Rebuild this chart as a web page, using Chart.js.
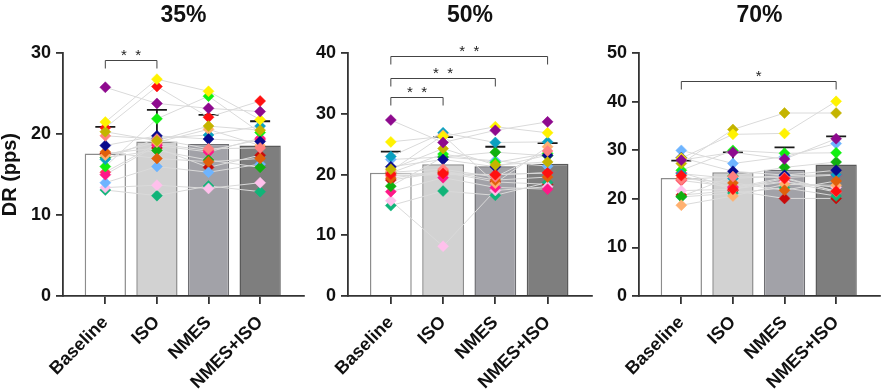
<!DOCTYPE html>
<html>
<head>
<meta charset="utf-8">
<script src="https://cdn.jsdelivr.net/npm/chart.js@4.4.1/dist/chart.umd.min.js"></script>
<style>
  body { margin: 0; background: #fff; }
  #wrap { position: relative; width: 886px; height: 391px; }
  canvas { position: absolute; top: 0; }
</style>
</head>
<body>
<div id="wrap">
  <canvas id="c35" width="310" height="391" style="left:0"></canvas>
  <canvas id="c50" width="288" height="391" style="left:310px"></canvas>
  <canvas id="c70" width="288" height="391" style="left:598px"></canvas>
</div>
<script>
const conditions = ['Baseline', 'ISO', 'NMES', 'NMES+ISO'];

// bar heights (mean) and top of the error bar (mean + SD)
const mean35 = [17.6, 19.1, 18.8, 18.6];
const sdTop35 = [20.9, 23.0, 22.4, 21.6];
const mean50 = [20.3, 21.7, 21.4, 21.8];
const sdTop50 = [23.8, 26.2, 24.6, 25.2];
const mean70 = [24.3, 25.5, 26.0, 27.1];
const sdTop70 = [27.9, 29.6, 30.6, 32.9];

// one row per participant: Baseline, ISO, NMES, NMES+ISO
const subjects35 = [
  [25.8, 23.8, 23.2, 22.8],
  [21.5, 26.8, 25.3, 21.8],
  [20.3, 19.2, 21.0, 20.5],
  [20.8, 25.9, 22.1, 24.1],
  [19.8, 19.4, 18.2, 18.3],
  [18.6, 19.8, 19.4, 19.1],
  [17.8, 17.0, 16.6, 17.0],
  [17.4, 19.0, 20.6, 18.6],
  [16.9, 19.5, 19.9, 21.0],
  [16.0, 21.9, 24.7, 20.2],
  [17.1, 18.0, 16.8, 15.9],
  [15.0, 18.6, 17.8, 19.5],
  [14.0, 16.0, 15.3, 16.3],
  [13.4, 13.7, 13.3, 14.0],
  [13.1, 12.4, 13.6, 12.9],
  [17.6, 18.3, 15.9, 17.4],
  [15.3, 18.8, 18.0, 19.3]
];
const subjects50 = [
  [29.0, 25.3, 27.3, 28.7],
  [25.4, 26.3, 27.9, 26.9],
  [20.9, 24.3, 21.6, 22.1],
  [20.1, 20.2, 20.0, 20.3],
  [20.4, 20.9, 19.6, 23.9],
  [21.3, 22.5, 21.3, 23.2],
  [19.4, 20.6, 19.1, 19.6],
  [20.6, 26.5, 18.6, 24.6],
  [23.0, 26.9, 25.3, 25.4],
  [20.3, 23.4, 22.0, 23.5],
  [18.1, 22.9, 23.7, 23.1],
  [17.2, 19.5, 17.9, 17.6],
  [22.5, 22.9, 22.3, 21.4],
  [15.7, 8.2, 17.4, 18.0],
  [14.9, 17.3, 16.6, 18.7],
  [19.1, 20.4, 18.8, 18.4],
  [19.8, 20.0, 20.0, 20.3]
];
const subjects70 = [
  [28.0, 29.6, 28.2, 32.4],
  [28.4, 33.3, 33.5, 40.1],
  [27.3, 34.3, 37.7, 37.7],
  [24.8, 22.0, 24.2, 21.6],
  [24.0, 24.6, 24.4, 21.5],
  [28.5, 25.7, 24.9, 25.9],
  [24.2, 23.3, 21.8, 23.7],
  [18.7, 20.6, 23.0, 22.8],
  [25.2, 24.2, 24.8, 25.0],
  [25.9, 30.0, 29.4, 29.5],
  [20.5, 24.7, 26.5, 27.6],
  [25.4, 22.3, 24.4, 24.9],
  [30.0, 27.3, 28.7, 31.4],
  [21.7, 22.0, 23.5, 22.4],
  [20.4, 21.2, 22.3, 20.6],
  [20.8, 21.7, 20.1, 20.1],
  [23.8, 22.5, 23.6, 21.4]
];

// significance brackets: condition indexes, height in pps, stars
const sig35 = [{ from: 0, to: 1, y: 29.2, label: '* *' }];
const sig50 = [
  { from: 0, to: 1, y: 32.8, label: '* *' },
  { from: 0, to: 2, y: 36.0, label: '* *' },
  { from: 0, to: 3, y: 39.5, label: '* *' }
];
const sig70 = [{ from: 0, to: 3, y: 44.2, label: '*' }];

const subjectColors = [
  '#8e0a8e', '#fff200', '#c4b400', '#ff1010', '#ff8080', '#0a0a8c',
  '#e0600a', '#ffb070', '#0aa0c0', '#10f010', '#10b010', '#ff1888',
  '#6eb4ff', '#ffc0ec', '#10b478', '#c80a0a', '#ff3858'
];
const barFill = ['#ffffff', '#d2d2d2', '#a2a2a8', '#7e7e7e'];
const barEdge = ['#8c8c8c', '#8c8c8c', '#6e6e72', '#5a5a5a'];

const FONT = '"Liberation Sans", Arial, Helvetica, sans-serif';
const INK = '#111';
const AXIS = '#333';

const errorBars = {
  id: 'errorBars',
  afterDatasetDraw(chart, args, opts) {
    if (args.index !== 0 || !opts.tops) return;
    const { ctx, scales: { x, y } } = chart;
    const means = chart.data.datasets[0].data;
    ctx.save();
    ctx.strokeStyle = '#1a1a1a';
    ctx.lineWidth = 1.8;
    opts.tops.forEach((top, i) => {
      const px = x.getPixelForValue(i);
      const y0 = y.getPixelForValue(means[i].y);
      const y1 = y.getPixelForValue(top);
      ctx.beginPath();
      ctx.moveTo(px, y0);
      ctx.lineTo(px, y1);
      ctx.moveTo(px - 10, y1);
      ctx.lineTo(px + 10, y1);
      ctx.stroke();
    });
    ctx.restore();
  }
};

const sigBrackets = {
  id: 'sigBrackets',
  afterDraw(chart, args, opts) {
    if (!opts.items) return;
    const { ctx, scales: { x, y } } = chart;
    ctx.save();
    ctx.strokeStyle = '#444';
    ctx.lineWidth = 1;
    ctx.fillStyle = '#222';
    ctx.font = '15px ' + FONT;
    ctx.textAlign = 'center';
    ctx.textBaseline = 'alphabetic';
    opts.items.forEach((b) => {
      const x0 = x.getPixelForValue(b.from);
      const x1 = x.getPixelForValue(b.to);
      const yy = Math.round(y.getPixelForValue(b.y)) + 0.5;
      ctx.beginPath();
      ctx.moveTo(x0, yy + 8);
      ctx.lineTo(x0, yy);
      ctx.lineTo(x1, yy);
      ctx.lineTo(x1, yy + 8);
      ctx.stroke();
      ctx.fillText(b.label.replace(' ', '  '), (x0 + x1) / 2, yy - 1);
    });
    ctx.restore();
  }
};

function makeChart(id, title, means, tops, subjects, yMax, sig, yWidth, padRight, showYTitle) {
  const datasets = [{
    type: 'bar',
    data: means.map((v, i) => ({ x: i, y: v })),
    backgroundColor: barFill,
    borderColor: barEdge,
    borderWidth: 1.5,
    barPercentage: 0.8,
    categoryPercentage: 1,
    order: 3
  }];
  subjects.forEach((row) => {
    datasets.push({
      type: 'line',
      data: row.map((v, i) => ({ x: i, y: v })),
      borderColor: '#dadada',
      borderWidth: 1,
      pointRadius: 0,
      order: 2
    });
  });
  subjects.forEach((row, s) => {
    datasets.push({
      type: 'line',
      data: row.map((v, i) => ({ x: i, y: v })),
      showLine: false,
      pointStyle: 'rectRot',
      pointRadius: 5.5,
      pointBackgroundColor: subjectColors[s],
      pointBorderColor: subjectColors[s],
      pointBorderWidth: 0.5,
      order: 1
    });
  });

  return new Chart(document.getElementById(id), {
    type: 'bar',
    data: { datasets },
    plugins: [errorBars, sigBrackets],
    options: {
      responsive: false,
      devicePixelRatio: 1,
      animation: false,
      layout: { padding: { left: 0, right: padRight, top: 0, bottom: 0 } },
      plugins: {
        legend: { display: false },
        tooltip: { enabled: false },
        title: {
          display: true,
          text: title,
          fullSize: false,
          color: INK,
          font: { family: FONT, size: 23, weight: 'bold', lineHeight: 1.1 },
          padding: { top: 3, bottom: 25 }
        },
        errorBars: { tops },
        sigBrackets: { items: sig }
      },
      scales: {
        x: {
          type: 'linear',
          offset: false,
          min: -0.82,
          max: 3.85,
          afterBuildTicks: (s) => { s.ticks = conditions.map((c, i) => ({ value: i })); },
          afterFit: (s) => { s.height = 95; },
          ticks: {
            callback: (v) => conditions[v],
            autoSkip: false,
            minRotation: 45,
            maxRotation: 45,
            color: INK,
            padding: 8,
            font: { family: FONT, size: 18, weight: 'bold' }
          },
          grid: { drawOnChartArea: false, offset: false, tickLength: 8, color: AXIS, lineWidth: 1.8 },
          border: { color: AXIS, width: 1.8 }
        },
        y: {
          min: 0,
          max: yMax,
          afterFit: (s) => { s.width = yWidth; },
          ticks: {
            stepSize: 10,
            color: INK,
            padding: 5,
            font: { family: FONT, size: 18, weight: 'bold' }
          },
          title: {
            display: showYTitle,
            text: 'DR (pps)',
            color: INK,
            font: { family: FONT, size: 20, weight: 'bold', lineHeight: 1 },
            padding: 0
          },
          grid: { drawOnChartArea: false, tickLength: 7, color: AXIS, lineWidth: 1.8 },
          border: { color: AXIS, width: 1.8 }
        }
      }
    }
  });
}

makeChart('c35', '35%', mean35, sdTop35, subjects35, 30, sig35, 63, 2, true);
makeChart('c50', '50%', mean50, sdTop50, subjects50, 40, sig50, 38, 5, false);
makeChart('c70', '70%', mean70, sdTop70, subjects70, 50, sig70, 41, 6, false);
</script>
</body>
</html>
